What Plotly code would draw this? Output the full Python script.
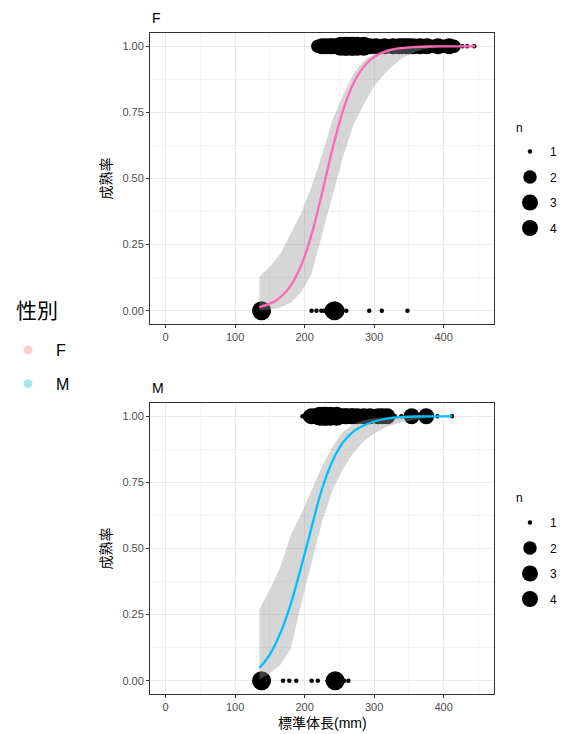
import plotly.graph_objects as go

# ---------------- data ----------------
# Female: mature (y=1) and immature (y=0) observations, length in mm and count n
f_mature_x = [219, 222, 225, 228, 231, 234, 237, 240, 243, 246, 249, 252, 255, 258, 261, 264, 267, 270,
              273, 276, 279, 282, 285, 288, 291, 294, 297, 300, 303, 306, 309, 312, 315, 318, 321, 324,
              327, 330, 333, 336, 340, 343, 346, 350, 353, 356, 360, 363, 366, 370, 373, 376, 380, 384,
              388, 392, 396, 400, 404, 408, 412, 415, 420, 427, 434, 444]
f_mature_n = [2, 2, 3, 2, 3, 2, 3, 3, 2, 3, 3, 4, 3, 4, 4, 3, 4, 4,
              3, 4, 3, 3, 4, 3, 2, 3, 2, 2, 3, 2, 2, 2, 3, 2, 2, 2,
              3, 2, 2, 3, 3, 2, 3, 3, 2, 3, 2, 2, 3, 2, 2, 3, 2, 2,
              2, 3, 2, 2, 2, 3, 2, 2, 1, 1, 1, 1]
f_immature_x = [136, 138, 140, 210, 217, 224, 228, 232, 236, 240, 243, 246, 250, 260, 293, 311, 348]
f_immature_n = [2, 4, 2, 1, 1, 1, 1, 1, 1, 3, 4, 3, 1, 1, 1, 1, 1]

# Female fitted maturity curve with confidence band
f_curve_x = [135, 150, 165, 180, 195, 210, 225, 240, 255, 270, 285, 300, 320, 340, 360, 380, 400, 420, 445]
f_curve_p = [0.014, 0.027, 0.051, 0.095, 0.171, 0.289, 0.444, 0.611, 0.755, 0.858, 0.922, 0.959, 0.983,
             0.993, 0.997, 0.999, 0.9995, 0.9998, 0.9999]
f_upper = [0.13, 0.167, 0.215, 0.29, 0.37, 0.47, 0.59, 0.72, 0.815, 0.895, 0.945, 0.972, 0.99, 0.997,
           0.999, 1.0, 1.0, 1.0, 1.0]
f_lower = [0.001, 0.005, 0.012, 0.03, 0.07, 0.14, 0.28, 0.43, 0.58, 0.70, 0.78, 0.85, 0.91, 0.955,
           0.98, 0.993, 0.997, 0.999, 1.0]

# Male observations
m_mature_x = [197, 207, 210, 213, 216, 219, 222, 225, 228, 231, 234, 237, 240, 243, 246, 249, 252, 255,
              258, 261, 264, 267, 270, 273, 276, 279, 282, 285, 288, 291, 294, 297, 300, 303, 306, 309,
              312, 315, 319, 325, 330, 339, 345, 354, 362, 375, 391, 412]
m_mature_n = [1, 2, 3, 2, 3, 3, 4, 3, 4, 4, 3, 4, 3, 3, 4, 3, 3, 2,
              3, 3, 2, 3, 3, 2, 3, 2, 2, 3, 2, 2, 3, 2, 2, 2, 3, 2,
              3, 2, 3, 1, 1, 1, 1, 3, 1, 3, 1, 1]
m_immature_x = [136, 138, 140, 169, 178, 188, 210, 219, 233, 240, 244, 248, 257, 263]
m_immature_n = [2, 4, 2, 1, 1, 1, 1, 1, 1, 2, 4, 2, 1, 1]

# Male fitted maturity curve with confidence band
m_curve_x = [135, 150, 165, 180, 195, 210, 225, 240, 255, 270, 285, 300, 320, 340, 360, 380, 400, 412]
m_curve_p = [0.048, 0.10, 0.18, 0.29, 0.43, 0.58, 0.725, 0.83, 0.90, 0.942, 0.965, 0.98, 0.992, 0.997,
             0.999, 0.9995, 0.9998, 0.9999]
m_upper = [0.27, 0.345, 0.43, 0.55, 0.63, 0.72, 0.81, 0.885, 0.94, 0.97, 0.985, 0.992, 0.997, 0.999,
           1.0, 1.0, 1.0, 1.0]
m_lower = [0.005, 0.028, 0.06, 0.12, 0.29, 0.45, 0.60, 0.72, 0.80, 0.86, 0.905, 0.935, 0.962, 0.978,
           0.988, 0.994, 0.997, 0.998]

# axis ticks
x_ticks = [0, 100, 200, 300, 400]
x_minor = [50, 150, 250, 350, 450]
y_ticks = [0, 0.25, 0.5, 0.75, 1.0]
y_ticklabels = ["0.00", "0.25", "0.50", "0.75", "1.00"]
y_minor = [0.125, 0.375, 0.625, 0.875]
n_levels = [1, 2, 3, 4]
sex_levels = ["F", "M"]

# ---------------- styling ----------------
W, H = 567, 734
FONT = "Arial, 'Liberation Sans', 'Noto Sans CJK JP', sans-serif"
SIZE = {1: 4.5, 2: 13.5, 3: 16, 4: 19}
LINE_COL = {"F": "#FF69B4", "M": "#00BFFF"}
LEG_COL = {"F": "rgba(248,118,109,0.35)", "M": "rgba(0,191,196,0.35)"}
RIBBON = "rgba(153,153,153,0.4)"

fig = go.Figure()


def add_panel(xa, ya, mx, mn, ix, inn, cx, cp, lo, up, col):
    fig.add_trace(go.Scatter(
        x=mx + ix, y=[1] * len(mx) + [0] * len(ix), mode="markers",
        marker=dict(size=[SIZE[n] for n in mn + inn], color="black", opacity=1, line=dict(width=0)),
        xaxis=xa, yaxis=ya, showlegend=False, hoverinfo="skip"))
    fig.add_trace(go.Scatter(
        x=cx + cx[::-1], y=up + lo[::-1], mode="lines", fill="toself", fillcolor=RIBBON,
        line=dict(width=0), xaxis=xa, yaxis=ya, showlegend=False, hoverinfo="skip"))
    fig.add_trace(go.Scatter(
        x=cx, y=cp, mode="lines", line=dict(color=col, width=2.3, shape="spline"),
        xaxis=xa, yaxis=ya, showlegend=False, hoverinfo="skip"))


add_panel("x", "y", f_mature_x, f_mature_n, f_immature_x, f_immature_n,
          f_curve_x, f_curve_p, f_lower, f_upper, LINE_COL["F"])
add_panel("x2", "y2", m_mature_x, m_mature_n, m_immature_x, m_immature_n,
          m_curve_x, m_curve_p, m_lower, m_upper, LINE_COL["M"])

# legend: sex
for s in sex_levels:
    fig.add_trace(go.Scatter(
        x=[None], y=[None], mode="markers", name=s, legend="legend", legendgroup="s" + s,
        marker=dict(size=9, color=LEG_COL[s], opacity=1, line=dict(width=0))))
# legends: n (one per panel)
for lg in ["legend2", "legend3"]:
    for n in n_levels:
        fig.add_trace(go.Scatter(
            x=[None], y=[None], mode="markers", name=str(n), legend=lg, legendgroup=lg + str(n),
            marker=dict(size=SIZE[n], color="black", opacity=1, line=dict(width=0))))

xdom = [150 / W, 494 / W]
ydomF = [1 - 324 / H, 1 - 33 / H]
ydomM = [1 - 694 / H, 1 - 403 / H]

TICKFONT = dict(size=11, color="#4D4D4D", family=FONT)
common_x = dict(
    range=[-22.5, 472.5], tickmode="array", tickvals=x_ticks, showgrid=True, gridcolor="#EBEBEB",
    gridwidth=1, minor=dict(tickmode="array", tickvals=x_minor, showgrid=True, gridcolor="#F4F4F4",
                             gridwidth=0.6, ticks=""),
    showline=True, mirror=True, linecolor="#333333", linewidth=1, ticks="outside", ticklen=3,
    tickcolor="#333333", tickfont=TICKFONT, zeroline=False, domain=xdom, fixedrange=True)
common_y = dict(
    range=[-0.05, 1.05], tickmode="array", tickvals=y_ticks, ticktext=y_ticklabels, showgrid=True,
    gridcolor="#EBEBEB", gridwidth=1,
    minor=dict(tickmode="array", tickvals=y_minor, showgrid=True, gridcolor="#F4F4F4",
               gridwidth=0.6, ticks=""),
    showline=True, mirror=True, linecolor="#333333", linewidth=1, ticks="outside", ticklen=3,
    tickcolor="#333333", tickfont=TICKFONT, zeroline=False, fixedrange=True)


def ann(text, x, y, size, xanchor="left", angle=0):
    return dict(text=text, x=x / W, y=1 - y / H, xref="paper", yref="paper", xanchor=xanchor,
                yanchor="middle", showarrow=False, textangle=angle,
                font=dict(size=size, color="black", family=FONT))


fig.update_layout(
    template="none",
    width=W, height=H, margin=dict(l=0, r=0, t=0, b=0, autoexpand=False),
    paper_bgcolor="white", plot_bgcolor="white",
    font=dict(family=FONT, color="black"),
    xaxis=dict(common_x, anchor="y"),
    yaxis=dict(common_y, domain=ydomF, anchor="x"),
    xaxis2=dict(common_x, anchor="y2"),
    yaxis2=dict(common_y, domain=ydomM, anchor="x2"),
    legend=dict(x=0, y=1 - 333 / H, xanchor="left", yanchor="top",
                font=dict(size=16, family=FONT, color="black"), tracegroupgap=10, itemwidth=46,
                bgcolor="rgba(0,0,0,0)", itemsizing="trace"),
    legend2=dict(x=510 / W, y=1 - 137 / H, xanchor="left", yanchor="top",
                 font=dict(size=12, family=FONT, color="black"), tracegroupgap=6.5,
                 bgcolor="rgba(0,0,0,0)", itemsizing="trace"),
    legend3=dict(x=510 / W, y=1 - 508 / H, xanchor="left", yanchor="top",
                 font=dict(size=12, family=FONT, color="black"), tracegroupgap=6.5,
                 bgcolor="rgba(0,0,0,0)", itemsizing="trace"),
    annotations=[
        ann("F", 150, 18, 14),
        ann("M", 150, 388, 14),
        ann("成熟率", 105, 178.5, 14, "center", -90),
        ann("成熟率", 105, 548.5, 14, "center", -90),
        ann("標準体長(mm)", 322, 723, 14, "center"),
        ann("性別", 14, 310, 21),
        ann("n", 514, 128, 12),
        ann("n", 514, 498, 12),
    ],
)

fig.write_html("out.html")
